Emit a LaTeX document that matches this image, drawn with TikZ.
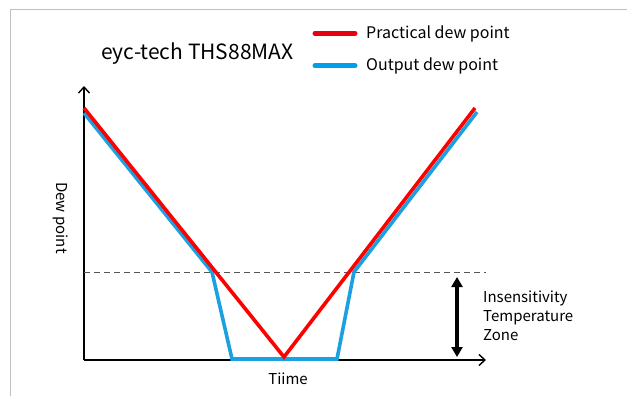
\documentclass[tikz,border=0pt]{standalone}
\usepackage{fontspec}
\setmainfont{Noto Sans CJK SC}
\usetikzlibrary{arrows.meta}
\definecolor{framegray}{HTML}{BFBFBF}
\definecolor{realred}{HTML}{FF0000}
\definecolor{legred}{HTML}{E60012}
\definecolor{outblue}{HTML}{1BA1E2}
\definecolor{legblue}{HTML}{00A0E9}
\definecolor{dashgray}{HTML}{555555}
\tikzset{
  axisline/.style={line width=1.6pt, black, -{Straight Barb[length=6pt,width=11pt,line width=1.4pt]}},
  realline/.style={line width=3.6pt, realred, line join=miter},
  outline/.style={line width=3.6pt, outblue, line join=miter},
  legline/.style={line width=5pt, line cap=round},
  lbl/.style={inner sep=0pt, font=\fontsize{15}{18.8}\selectfont},
  legtext/.style={inner sep=0pt, anchor=base west, font=\fontsize{16}{19}\selectfont},
  zonearrow/.style={line width=3.6pt, black, {Triangle[length=10pt,width=11pt]}-{Triangle[length=10pt,width=11pt]}},
  thresh/.style={dashed, dash pattern=on 6pt off 4pt, line width=0.9pt, dashgray}
}
\begin{document}
\begin{tikzpicture}[x=1pt,y=-1pt]
\useasboundingbox (0,0) rectangle (627,396);
% frame
\draw[framegray, line width=1.4pt] (10.5,396) -- (10.5,9.5) -- (627,9.5);
% axes
\coordinate (O) at (84,360);
\coordinate (ytip) at (84,86);
\coordinate (xtip) at (486,360);
\draw[axisline] (O) -- (ytip);
\draw[axisline] (O) -- (xtip);
% threshold
\coordinate (d1) at (84,272);
\coordinate (d2) at (486,272);
\draw[thresh] (d1) -- (d2);
% output dew point
\coordinate (b0) at (84,113);
\coordinate (b1) at (212,272);
\coordinate (b2) at (232,359);
\coordinate (b3) at (337,359);
\coordinate (b4) at (354,272);
\coordinate (b5) at (477,112);
\draw[outline] (b0) -- (b1) -- (b2) -- (b3) -- (b4) -- (b5);
% practical dew point
\coordinate (r0) at (84,108);
\coordinate (r1) at (284,357);
\coordinate (r2) at (475,108);
\draw[realline] (r0) -- (r1) -- (r2);
% zone arrow
\coordinate (z1) at (457,277);
\coordinate (z2) at (457,357);
\draw[zonearrow] (z1) -- (z2);
\node[lbl, anchor=base west, align=left] (zone) at (483,340.4) {Insensitivity\\Temperature\\Zone};
% labels
\node[lbl, anchor=base] (tlabel) at (288,384) {Tiime};
\node[lbl, rotate=-90] (ylabel) at (61,218) {Dew point};
\node[inner sep=0pt, anchor=base west, font=\fontsize{21}{25}\selectfont] (title) at (101,60) {eyc-tech THS88MAX};
% legend
\coordinate (lr1) at (315,33.3);
\coordinate (lr2) at (355,33.3);
\coordinate (lb1) at (315,65.7);
\coordinate (lb2) at (355,65.7);
\draw[legline, legred] (lr1) -- (lr2);
\draw[legline, legblue] (lb1) -- (lb2);
\node[legtext] (legr) at (366,38.3) {Practical dew point};
\node[legtext] (legb) at (366,71) {Output dew point};
\end{tikzpicture}
\end{document}
